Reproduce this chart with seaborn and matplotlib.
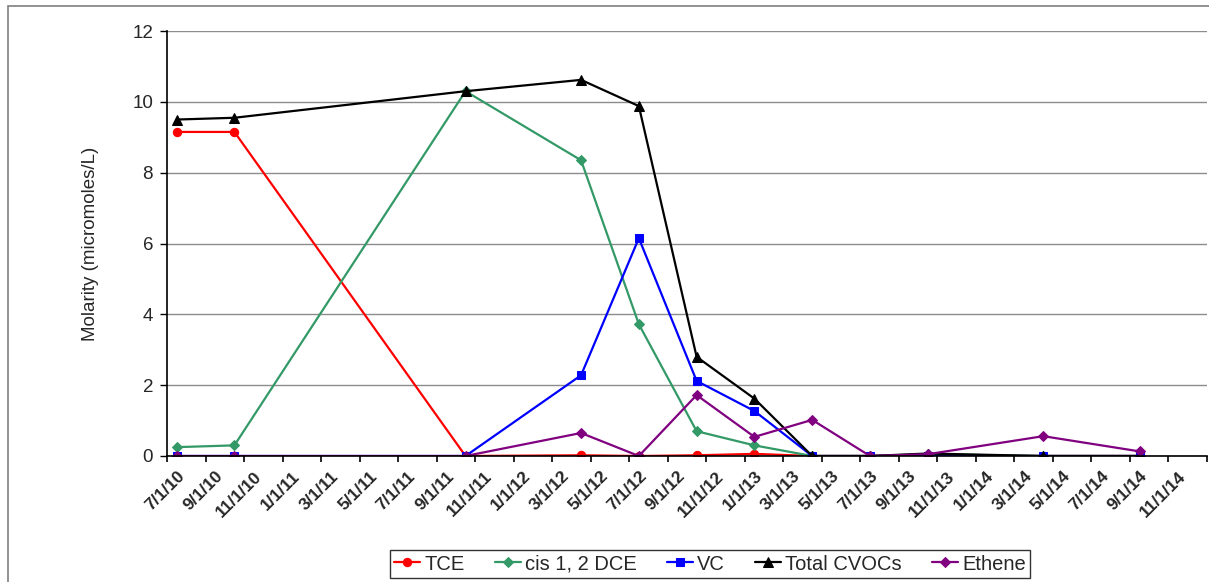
import matplotlib
matplotlib.use('Agg')
import matplotlib.pyplot as plt
import seaborn as sns
import pandas as pd
from matplotlib.patches import Rectangle

sns.set_style('white')
plt.rcParams['font.family'] = ['Liberation Sans', 'DejaVu Sans']

# sampling dates (month resolution, Excel date axis with month base unit)
sample_months = ['2010-07', '2010-10', '2011-10', '2012-04', '2012-07', '2012-10',
                 '2013-01', '2013-04', '2013-07', '2013-10', '2014-04', '2014-09']

tce = [9.15, 9.15, 0.0, 0.02, 0.0, 0.02, 0.06, 0.0, 0.0, 0.0, 0.0, 0.0]
cis_dce = [0.25, 0.3, 10.3, 8.35, 3.72, 0.7, 0.3, 0.0, 0.0, 0.05, 0.0, 0.0]
vc = [0.0, 0.0, 0.0, 2.28, 6.15, 2.12, 1.27, 0.0, 0.0, 0.0, 0.0, 0.0]
total_cvocs = [9.5, 9.55, 10.3, 10.62, 9.88, 2.8, 1.62, 0.0, 0.0, 0.07, 0.0, 0.0]
ethene = [0.0, 0.0, 0.0, 0.65, 0.0, 1.72, 0.54, 1.02, 0.0, 0.05, 0.56, 0.13]

tick_labels = ['7/1/10', '9/1/10', '11/1/10', '1/1/11', '3/1/11', '5/1/11', '7/1/11',
               '9/1/11', '11/1/11', '1/1/12', '3/1/12', '5/1/12', '7/1/12', '9/1/12',
               '11/1/12', '1/1/13', '3/1/13', '5/1/13', '7/1/13', '9/1/13', '11/1/13',
               '1/1/14', '3/1/14', '5/1/14', '7/1/14', '9/1/14', '11/1/14']

series = [
    ('TCE', tce, '#FF0000', 'o', 6),
    ('cis 1, 2 DCE', cis_dce, '#339966', 'D', 5),
    ('VC', vc, '#0000FF', 's', 5.5),
    ('Total CVOCs', total_cvocs, '#000000', '^', 7),
    ('Ethene', ethene, '#800080', 'D', 5),
]

start = pd.Period('2010-07', freq='M')
months = [(pd.Period(m, freq='M') - start).n for m in sample_months]

fig = plt.figure(figsize=(12.09, 5.82), dpi=100)
ax = fig.add_axes([167 / 1209, 1 - 456 / 582, (1207 - 167) / 1209, (456 - 31) / 582])

for name, vals, color, marker, ms in series:
    sns.lineplot(x=months, y=vals, ax=ax, color=color, marker=marker, markersize=ms,
                 markeredgecolor=color, linewidth=1.6, label=name, legend=False)

ax.set_xlim(-0.5, 52.9)
ax.set_ylim(0, 12)
ax.set_yticks(range(0, 13, 2))
ax.yaxis.grid(True, color='#8c8c8c', linewidth=1.0)
ax.xaxis.grid(False)
ax.set_axisbelow(True)

ax.set_xticks(range(0, 53, 2))
ax.set_xticklabels(tick_labels, rotation=45, ha='right', rotation_mode='anchor',
                   fontsize=12.5, fontweight='bold')
ax.set_xticks([x - 0.5 for x in range(0, 55, 2)], minor=True)
ax.tick_params(axis='x', which='major', length=0, pad=9)
ax.tick_params(axis='x', which='minor', length=4, width=1.2, color='black', direction='out')
ax.tick_params(axis='y', length=5, width=1, color='black', direction='out', labelsize=13.5, pad=5)
ax.yaxis.set_ticks_position('left')
ax.xaxis.set_ticks_position('bottom')

for side in ['top', 'right']:
    ax.spines[side].set_visible(False)
for side in ['left', 'bottom']:
    ax.spines[side].set_color('black')
    ax.spines[side].set_linewidth(1.2)

ax.set_ylabel('Molarity (micromoles/L)', fontsize=13.5, labelpad=24)

handles, labels = ax.get_legend_handles_labels()
leg = fig.legend(handles, labels, loc='center', bbox_to_anchor=(710 / 1209, 1 - 564 / 582),
                 ncol=5, frameon=True, fancybox=False, edgecolor='black', fontsize=14.5,
                 handlelength=1.3, handletextpad=0.2, columnspacing=1.5,
                 borderpad=0.2)
leg.get_frame().set_linewidth(1.0)

# outer chart border (cropped at right and bottom)
fig.patches.append(Rectangle((8 / 1209, -0.1), 1.2, 1.1 - 6 / 582, transform=fig.transFigure,
                             fill=False, edgecolor='#7f7f7f', linewidth=1.2))

fig.savefig('out.png', dpi=100)
